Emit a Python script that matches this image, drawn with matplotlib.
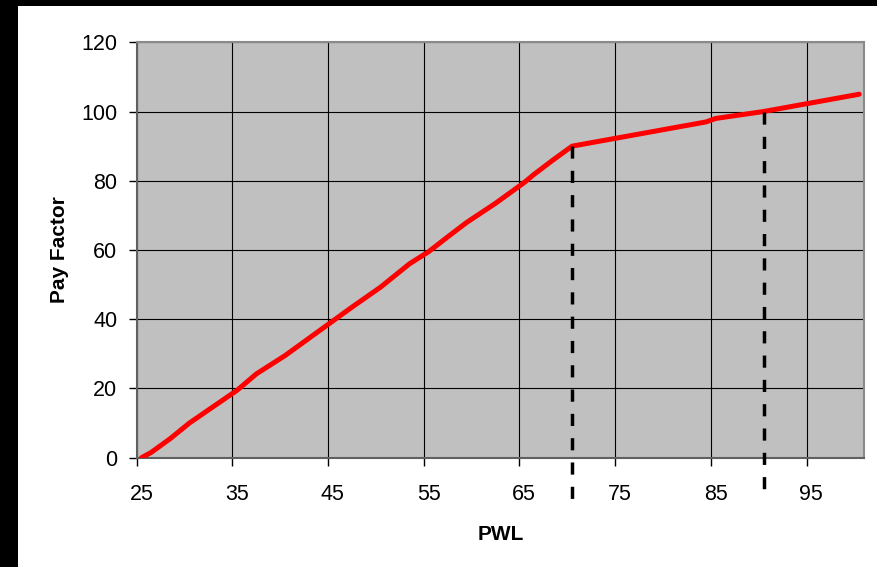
import matplotlib.pyplot as plt
from matplotlib.patches import Rectangle
from matplotlib.ticker import FixedLocator

plt.rcParams['font.family'] = ['Liberation Sans', 'DejaVu Sans']

# values
pwl = [25, 26, 28, 30, 32, 35, 37, 40, 43, 45, 47, 50, 53, 55, 57, 59, 62,
       65, 66, 68, 70, 75, 80, 84, 85, 90, 95, 100]
pay_factor = [0, 1.5, 5.5, 10, 13.8, 19.5, 24.2, 29.5, 35.5, 39.5, 43.5, 49.3,
              56, 59.5, 63.8, 68, 73.5, 79.5, 81.8, 86, 90, 92.5, 95, 97, 98,
              100, 102.5, 105]

# vertical markers (PWL, pay factor where they start)
marker_pwl = [70, 90]
marker_pf = [90, 100]
marker_bottom = [-13.1, -11.9]

x_labels = ['25', '35', '45', '55', '65', '75', '85', '95']
y_ticks = [0, 20, 40, 60, 80, 100, 120]

fig = plt.figure(figsize=(8.77, 5.67), dpi=100)
fig.patch.set_facecolor('white')

# black frame on the left and top edge of the picture
fig.patches.append(Rectangle((0, 0), 18 / 877, 1, transform=fig.transFigure,
                             facecolor='black', edgecolor='none', zorder=0))
fig.patches.append(Rectangle((0, 1 - 6 / 567), 1, 6 / 567, transform=fig.transFigure,
                             facecolor='black', edgecolor='none', zorder=0))

ax = fig.add_axes([136.7 / 877, 1 - 457.7 / 567, (864 - 136.7) / 877, (457.7 - 42.3) / 567])
ax.set_facecolor('#C0C0C0')

# category axis: each PWL value sits in the middle of a 1-wide slot
ax.set_xlim(24.5, 100.5)
ax.set_ylim(0, 120)

ax.plot(pwl, pay_factor, color='#FF0000', lw=3.6, solid_joinstyle='round',
        solid_capstyle='round', zorder=4)

for xv, top, bot in zip(marker_pwl, marker_pf, marker_bottom):
    ax.plot([xv, xv], [top, bot], color='black', lw=2.5,
            linestyle=(0, (3.5, 3.5)), dash_capstyle='butt', clip_on=False, zorder=5)

# gridlines/ticks at category boundaries, labels at category centres
ax.xaxis.set_major_locator(FixedLocator([24.5 + 10 * k for k in range(8)]))
ax.xaxis.set_minor_locator(FixedLocator([int(s) for s in x_labels]))
ax.set_xticklabels([], minor=False)
ax.set_xticklabels(x_labels, minor=True)
ax.tick_params(axis='x', which='major', length=6, width=1, color='black', direction='out')
ax.tick_params(axis='x', which='minor', length=0, pad=19, labelsize=15.5)

ax.set_yticks(y_ticks)
ax.tick_params(axis='y', length=6, width=1, color='black', direction='out',
               pad=8, labelsize=15.5)

ax.grid(True, which='major', color='black', lw=0.8, zorder=1)
ax.set_axisbelow(True)

for side in ['left', 'bottom']:
    ax.spines[side].set_color('#606060')
    ax.spines[side].set_linewidth(1.5)
for side in ['top', 'right']:
    ax.spines[side].set_color('#8a8a8a')
    ax.spines[side].set_linewidth(1.5)

ax.set_xlabel('PWL', fontsize=15, fontweight='bold', labelpad=14)
ax.set_ylabel('Pay Factor', fontsize=15, fontweight='bold', labelpad=9)

fig.savefig('out.png', dpi=100)
